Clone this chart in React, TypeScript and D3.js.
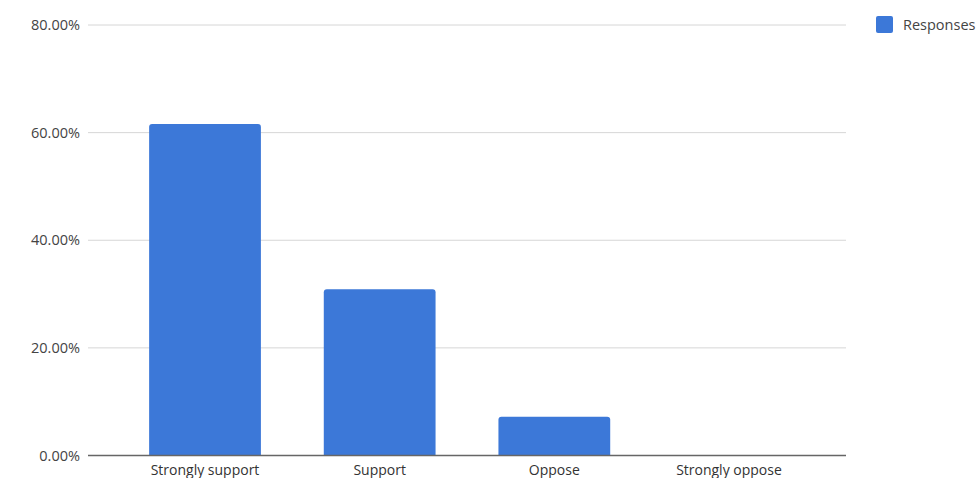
import React from "react";
import * as d3 from "d3";

const categories = ["Strongly support", "Support", "Oppose", "Strongly oppose"];
const responses = [61.6, 30.9, 7.2, 0];
const yTicks = [0, 20, 40, 60, 80];
const seriesName = "Responses";

const W = 979;
const H = 478;
const plotLeft = 88;
const plotRight = 846;
const plotTop = 25;
const plotBottom = 455.5;
const barColor = "#3c78d8";
const textColor = "#444444";
const font = "'Open Sans', 'Noto Sans', sans-serif";

export default function App() {
  const x = d3
    .scaleBand<string>()
    .domain(categories)
    .range([plotLeft, plotRight])
    .paddingInner(0.36)
    .paddingOuter(0.35);
  const y = d3.scaleLinear().domain([0, 80]).range([plotBottom, plotTop]);
  const fmt = (v: number) => `${v.toFixed(2)}%`;
  const r = 3;

  // Bar with slightly rounded top corners
  const barPath = (cx: number, w: number, top: number, bottom: number) => {
    const h = bottom - top;
    if (h <= 0) return "";
    const rr = Math.min(r, h);
    return `M${cx},${bottom}V${top + rr}Q${cx},${top} ${cx + rr},${top}H${cx + w - rr}Q${cx + w},${top} ${cx + w},${top + rr}V${bottom}Z`;
  };

  return (
    <svg
      width={W}
      height={H}
      style={{ position: "absolute", left: 0, top: 0, background: "#fff" }}
      fontFamily={font}
    >
      {yTicks.map((t) => (
        <g key={t}>
          {t !== 0 && (
            <line
              x1={plotLeft}
              x2={plotRight}
              y1={y(t)}
              y2={y(t)}
              stroke="#d6d6d6"
              strokeWidth={1}
            />
          )}
          <text
            x={80}
            y={y(t)}
            dy="0.35em"
            textAnchor="end"
            fontSize={14.5}
            fill={textColor}
          >
            {fmt(t)}
          </text>
        </g>
      ))}
      {categories.map((c, i) => (
        <path
          key={c}
          d={barPath(x(c)!, x.bandwidth(), y(responses[i]), y(0))}
          fill={barColor}
        />
      ))}
      <line
        x1={plotLeft}
        x2={plotRight}
        y1={y(0)}
        y2={y(0)}
        stroke="#666666"
        strokeWidth={1.3}
      />
      {categories.map((c) => (
        <text
          key={c}
          x={x(c)! + x.bandwidth() / 2}
          y={470}
          dy="0.35em"
          textAnchor="middle"
          fontSize={14}
          fill="#333333"
        >
          {c}
        </text>
      ))}
      <rect x={876} y={16} width={17} height={17} rx={2} fill={barColor} />
      <text x={903} y={24.5} dy="0.35em" fontSize={14.5} fill={textColor}>
        {seriesName}
      </text>
    </svg>
  );
}
